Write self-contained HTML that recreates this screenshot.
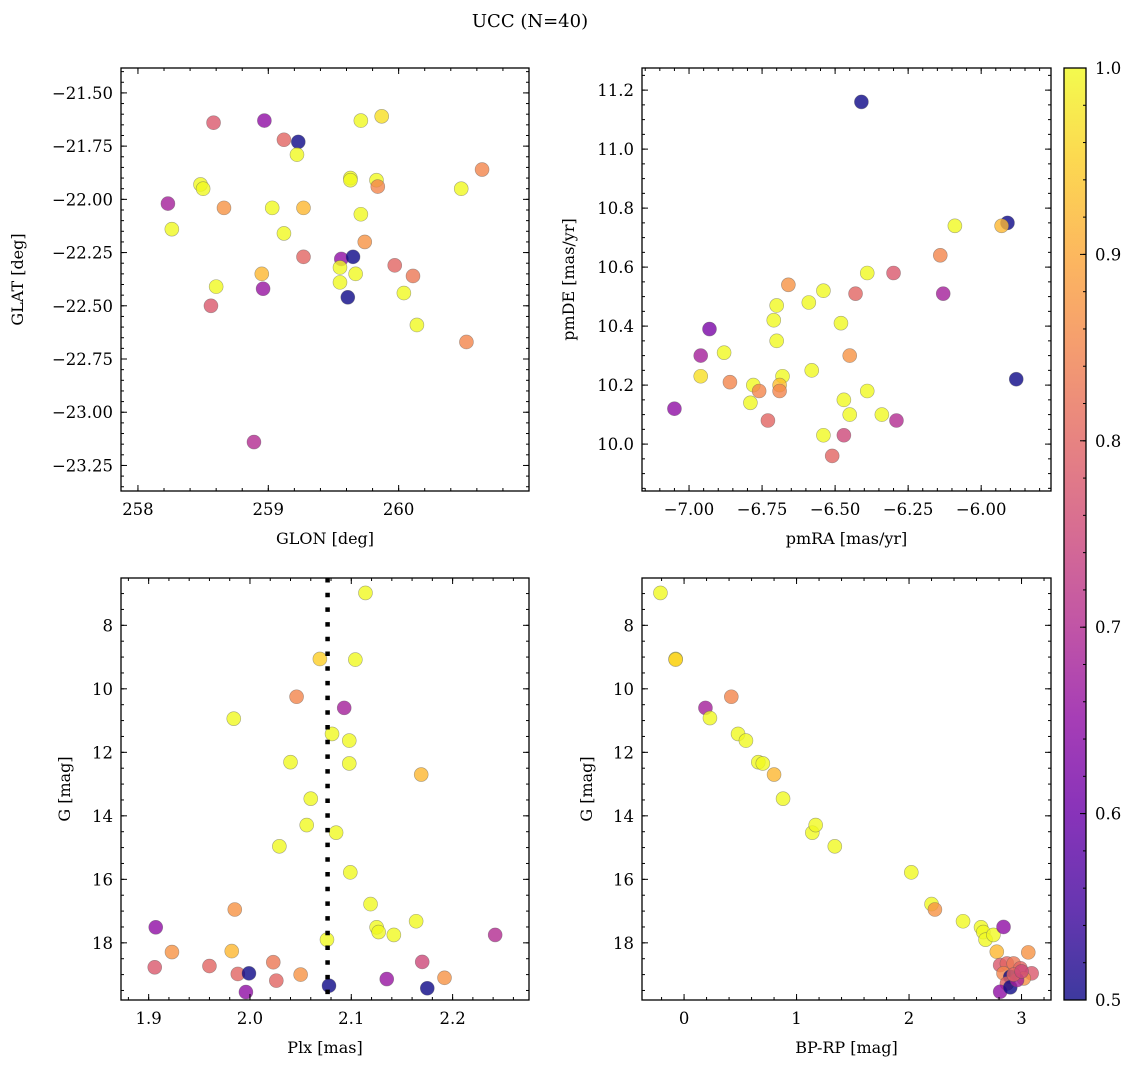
<!DOCTYPE html>
<html><head><meta charset="utf-8">
<style>
html,body{margin:0;padding:0;background:#fff;}
svg{display:block;font-family:"DejaVu Serif","Liberation Serif",serif;}
</style></head>
<body>
<svg id="fig" width="1136" height="1067" viewBox="0 0 1136 1067" xmlns="http://www.w3.org/2000/svg">
<text x="530" y="27" font-size="18" text-anchor="middle">UCC (N=40)</text>
<defs>
<linearGradient id="cbgrad" x1="0" y1="1" x2="0" y2="0">
<stop offset="0" stop-color="#0d0887"/><stop offset="0.1" stop-color="#41049d"/><stop offset="0.2" stop-color="#6a00a8"/><stop offset="0.3" stop-color="#8f0da4"/><stop offset="0.4" stop-color="#b12a90"/><stop offset="0.5" stop-color="#cc4778"/><stop offset="0.6" stop-color="#e16462"/><stop offset="0.7" stop-color="#f2844b"/><stop offset="0.8" stop-color="#fca636"/><stop offset="0.9" stop-color="#fcce25"/><stop offset="1" stop-color="#f0f921"/>
</linearGradient>
</defs>
</svg>
<script>
// ---- data ----
const glon = [258.58,258.97,259.12,259.23,259.22,259.71,259.87,260.64,259.63,259.63,259.83,259.84,260.48,258.48,258.50,258.23,258.66,259.03,259.27,259.71,258.26,259.12,259.74,259.27,259.56,259.65,259.55,259.67,259.97,260.11,258.95,258.60,258.96,259.55,260.04,259.61,258.56,260.14,260.52,258.89];
const glat = [-21.64,-21.63,-21.72,-21.73,-21.79,-21.63,-21.61,-21.86,-21.90,-21.91,-21.91,-21.94,-21.95,-21.93,-21.95,-22.02,-22.04,-22.04,-22.04,-22.07,-22.14,-22.16,-22.20,-22.27,-22.28,-22.27,-22.32,-22.35,-22.31,-22.36,-22.35,-22.41,-22.42,-22.39,-22.44,-22.46,-22.50,-22.59,-22.67,-23.14];
const probPos = [0.78,0.65,0.80,0.50,1.0,1.0,0.97,0.85,1.0,1.0,1.0,0.85,1.0,1.0,1.0,0.68,0.87,1.0,0.92,1.0,1.0,1.0,0.87,0.80,0.65,0.50,1.0,1.0,0.80,0.83,0.92,1.0,0.66,1.0,1.0,0.50,0.78,1.0,0.85,0.70];

const pmra = [-6.41,-5.91,-5.93,-6.09,-6.14,-6.39,-6.30,-6.13,-6.43,-6.66,-6.54,-6.59,-6.70,-6.71,-6.48,-6.93,-6.70,-6.96,-6.88,-6.45,-6.96,-6.86,-6.58,-6.68,-6.69,-6.78,-6.76,-6.69,-6.39,-5.88,-6.79,-6.47,-7.05,-6.45,-6.34,-6.29,-6.73,-6.54,-6.47,-6.51];
const pmde = [11.16,10.75,10.74,10.74,10.64,10.58,10.58,10.51,10.51,10.54,10.52,10.48,10.47,10.42,10.41,10.39,10.35,10.30,10.31,10.30,10.23,10.21,10.25,10.23,10.20,10.20,10.18,10.18,10.18,10.22,10.14,10.15,10.12,10.10,10.10,10.08,10.08,10.03,10.03,9.96];
const probPm = [0.50,0.50,0.92,1.0,0.85,1.0,0.78,0.68,0.80,0.87,1.0,1.0,1.0,1.0,1.0,0.62,1.0,0.68,1.0,0.87,0.97,0.85,1.0,1.0,0.93,1.0,0.85,0.85,1.0,0.50,1.0,1.0,0.65,1.0,1.0,0.70,0.80,1.0,0.75,0.80];

const plx = [2.114,2.069,2.104,2.046,2.093,1.984,2.081,2.098,2.040,2.098,2.169,2.060,2.056,2.085,2.029,2.099,2.119,1.985,2.164,1.907,2.125,2.127,2.142,2.242,2.076,1.923,1.982,1.906,1.960,2.023,2.170,1.988,1.999,2.050,2.026,2.135,2.192,2.078,2.175,1.996];
const gmagPlx = [6.98,9.06,9.08,10.25,10.60,10.94,11.42,11.63,12.31,12.35,12.70,13.46,14.29,14.53,14.96,15.78,16.78,16.95,17.32,17.51,17.51,17.66,17.75,17.75,17.90,18.29,18.26,18.77,18.73,18.61,18.60,18.98,18.96,19.00,19.19,19.14,19.10,19.35,19.43,19.55];
const probPlx = [1.0,0.95,1.0,0.85,0.68,1.0,1.0,1.0,1.0,1.0,0.92,1.0,1.0,1.0,1.0,1.0,1.0,0.87,1.0,0.65,1.0,1.0,1.0,0.70,1.0,0.87,0.92,0.78,0.80,0.83,0.75,0.80,0.50,0.87,0.80,0.66,0.87,0.50,0.50,0.65];
const plxRef = [2.0766];

const bprp = [-0.21,-0.075,-0.075,0.19,0.23,0.48,0.55,0.42,0.66,0.70,0.80,0.88,1.14,1.17,1.34,2.02,2.20,2.23,2.48,2.64,2.66,2.68,2.75,2.84,2.78,3.06,2.81,2.87,2.93,2.99,3.09,2.84,2.90,3.02,2.87,2.81,2.90,2.96,2.93,3.00];
const gmagCmd = [6.98,9.06,9.08,10.60,10.92,11.42,11.63,10.25,12.31,12.35,12.70,13.46,14.53,14.29,14.96,15.78,16.78,16.95,17.32,17.51,17.66,17.90,17.75,17.50,18.28,18.30,18.70,18.65,18.65,18.80,18.96,18.96,19.07,19.12,19.28,19.54,19.40,19.17,19.00,18.90];
const probCmd = [1.0,1.0,0.95,0.68,1.0,1.0,1.0,0.85,1.0,1.0,0.92,1.0,1.0,1.0,1.0,1.0,1.0,0.87,1.0,1.0,1.0,1.0,1.0,0.65,0.92,0.87,0.78,0.80,0.83,0.80,0.78,0.85,0.50,0.87,0.80,0.65,0.50,0.68,0.80,0.75];

const cbTicks = [0.5,0.6,0.7,0.8,0.9,1.0];

// ---- helpers ----
const NS = "http://www.w3.org/2000/svg";
const svg = document.getElementById('fig');
function mk(tag, attrs, parent){const e=document.createElementNS(NS,tag);for(const k in attrs)e.setAttribute(k,attrs[k]);(parent||svg).appendChild(e);return e;}
const stops=[[0,[13,8,135]],[0.1,[65,4,157]],[0.2,[106,0,168]],[0.3,[143,13,164]],[0.4,[177,42,144]],[0.5,[204,71,120]],[0.6,[225,100,98]],[0.7,[242,132,75]],[0.8,[252,166,54]],[0.9,[252,206,37]],[1,[240,249,33]]];
function plasma(v){let t=Math.max(0,Math.min(1,(v-0.5)/0.5));for(let i=1;i<stops.length;i++){if(t<=stops[i][0]){const a=stops[i-1],b=stops[i];const f=(t-a[0])/(b[0]-a[0]);const c=a[1].map((x,j)=>Math.round(x+(b[1][j]-x)*f));return `rgb(${c[0]},${c[1]},${c[2]})`;}}return 'rgb(240,249,33)';}
function fmt(v,d){const s=Math.abs(v).toFixed(d);return (v<0?'\u2212':'')+s;}

function panel(cfg){
  const g=mk('g',{});
  
  
  const [x0,x1]=cfg.px,[y0,y1]=cfg.py;
  const sx=v=>x0+(v-cfg.xd[0])/(cfg.xd[1]-cfg.xd[0])*(x1-x0);
  const sy=v=>y0+(v-cfg.yd[0])/(cfg.yd[1]-cfg.yd[0])*(y1-y0);
  const pg=mk('g',{},g);
  
  
  for(let i=0;i<cfg.xs.length;i++){
    const c=mk('circle',{cx:sx(cfg.xs[i]),cy:sy(cfg.ys[i]),r:7,fill:plasma(cfg.cs[i]),'fill-opacity':0.8,stroke:'#555','stroke-opacity':0.5,'stroke-width':0.6},pg);
    
    
  }
  if(cfg.vline){
    const l=mk('line',{x1:sx(cfg.vline[0]),x2:sx(cfg.vline[0]),y1:y0,y2:y1,stroke:'#000','stroke-width':4.5,'stroke-dasharray':'4.5 10.2'},g);
    
    
  }
  const fr=mk('rect',{x:x0,y:y0,width:x1-x0,height:y1-y0,fill:'none',stroke:'#000','stroke-width':1.3},g);
  
  
  const xmin=Math.min(...cfg.xd),xmax=Math.max(...cfg.xd),ymin=Math.min(...cfg.yd),ymax=Math.max(...cfg.yd);
  for(let v=Math.ceil(xmin/cfg.xminor)*cfg.xminor;v<=xmax;v+=cfg.xminor){const X=sx(v);mk('line',{x1:X,x2:X,y1:y1,y2:y1-3,stroke:'#000'},g);mk('line',{x1:X,x2:X,y1:y0,y2:y0+3,stroke:'#000'},g);}
  for(let v=Math.ceil(ymin/cfg.yminor)*cfg.yminor;v<=ymax;v+=cfg.yminor){const Y=sy(v);mk('line',{x1:x0,x2:x0+3,y1:Y,y2:Y,stroke:'#000'},g);mk('line',{x1:x1,x2:x1-3,y1:Y,y2:Y,stroke:'#000'},g);}
  cfg.xt.forEach(v=>{const X=sx(v);mk('line',{x1:X,x2:X,y1:y1,y2:y1-6,stroke:'#000'},g);mk('line',{x1:X,x2:X,y1:y0,y2:y0+6,stroke:'#000'},g);
    const t=mk('text',{x:X,y:y1+24,'font-size':16.5,'text-anchor':'middle'},g);t.textContent=fmt(v,cfg.xdec);
    
    });
  cfg.yt.forEach(v=>{const Y=sy(v);mk('line',{x1:x0,x2:x0+6,y1:Y,y2:Y,stroke:'#000'},g);mk('line',{x1:x1,x2:x1-6,y1:Y,y2:Y,stroke:'#000'},g);
    const t=mk('text',{x:x0-8,y:Y+6,'font-size':16.5,'text-anchor':'end'},g);t.textContent=fmt(v,cfg.ydec);
    
    });
  const xl=mk('text',{x:(x0+x1)/2,y:y1+53,'font-size':16,'text-anchor':'middle'},g);xl.textContent=cfg.xlabel;
  
  
  const yl=mk('text',{x:cfg.ylx,y:(y0+y1)/2,'font-size':16,'text-anchor':'middle',transform:`rotate(-90 ${cfg.ylx} ${(y0+y1)/2})`},g);yl.textContent=cfg.ylabel;
  
  
}

panel({name:'position-panel',px:[121,529],py:[68,491],xd:[257.87,261.0],yd:[-21.383,-23.37],xs:glon,ys:glat,cs:probPos,
  xt:[258,259,260],xdec:0,xminor:0.2,yt:[-21.5,-21.75,-22,-22.25,-22.5,-22.75,-23,-23.25],ydec:2,yminor:0.05,xlabel:'GLON [deg]',ylabel:'GLAT [deg]',ylx:23});
panel({name:'proper-motion-panel',px:[642,1051],py:[68,491],xd:[-7.161,-5.761],yd:[11.275,9.841],xs:pmra,ys:pmde,cs:probPm,
  xt:[-7,-6.75,-6.5,-6.25,-6],xdec:2,xminor:0.05,yt:[10.0,10.2,10.4,10.6,10.8,11.0,11.2],ydec:1,yminor:0.05,xlabel:'pmRA [mas/yr]',ylabel:'pmDE [mas/yr]',ylx:574});
panel({name:'parallax-panel',px:[121,529],py:[578,1000],xd:[1.8727,2.2754],yd:[6.51,19.80],xs:plx,ys:gmagPlx,cs:probPlx,vline:plxRef,
  xt:[1.9,2.0,2.1,2.2],xdec:1,xminor:0.02,yt:[8,10,12,14,16,18],ydec:0,yminor:0.5,xlabel:'Plx [mas]',ylabel:'G [mag]',ylx:70});
panel({name:'cmd-panel',px:[642,1051],py:[578,1000],xd:[-0.374,3.262],yd:[6.51,19.80],xs:bprp,ys:gmagCmd,cs:probCmd,
  xt:[0,1,2,3],xdec:0,xminor:0.2,yt:[8,10,12,14,16,18],ydec:0,yminor:0.5,xlabel:'BP-RP [mag]',ylabel:'G [mag]',ylx:592});

const cb=mk('g',{});


const cbx0=1064,cbx1=1086,cby0=68,cby1=1000;
mk('rect',{x:cbx0,y:cby0,width:cbx1-cbx0,height:cby1-cby0,fill:'url(#cbgrad)','fill-opacity':0.8,stroke:'#000','stroke-width':1.3},cb);
const cy=v=>cby1-(v-0.5)/0.5*(cby1-cby0);
for(let v=0.5;v<=1.0001;v+=0.02){mk('line',{x1:cbx1,x2:cbx1-3,y1:cy(v),y2:cy(v),stroke:'#000'},cb);}
cbTicks.forEach(v=>{const Y=cy(v);mk('line',{x1:cbx1,x2:cbx1-6,y1:Y,y2:Y,stroke:'#000'},cb);
  const t=mk('text',{x:cbx1+9,y:Y+6,'font-size':16.5},cb);t.textContent=v.toFixed(1);
  
  });
</script>
</body></html>
